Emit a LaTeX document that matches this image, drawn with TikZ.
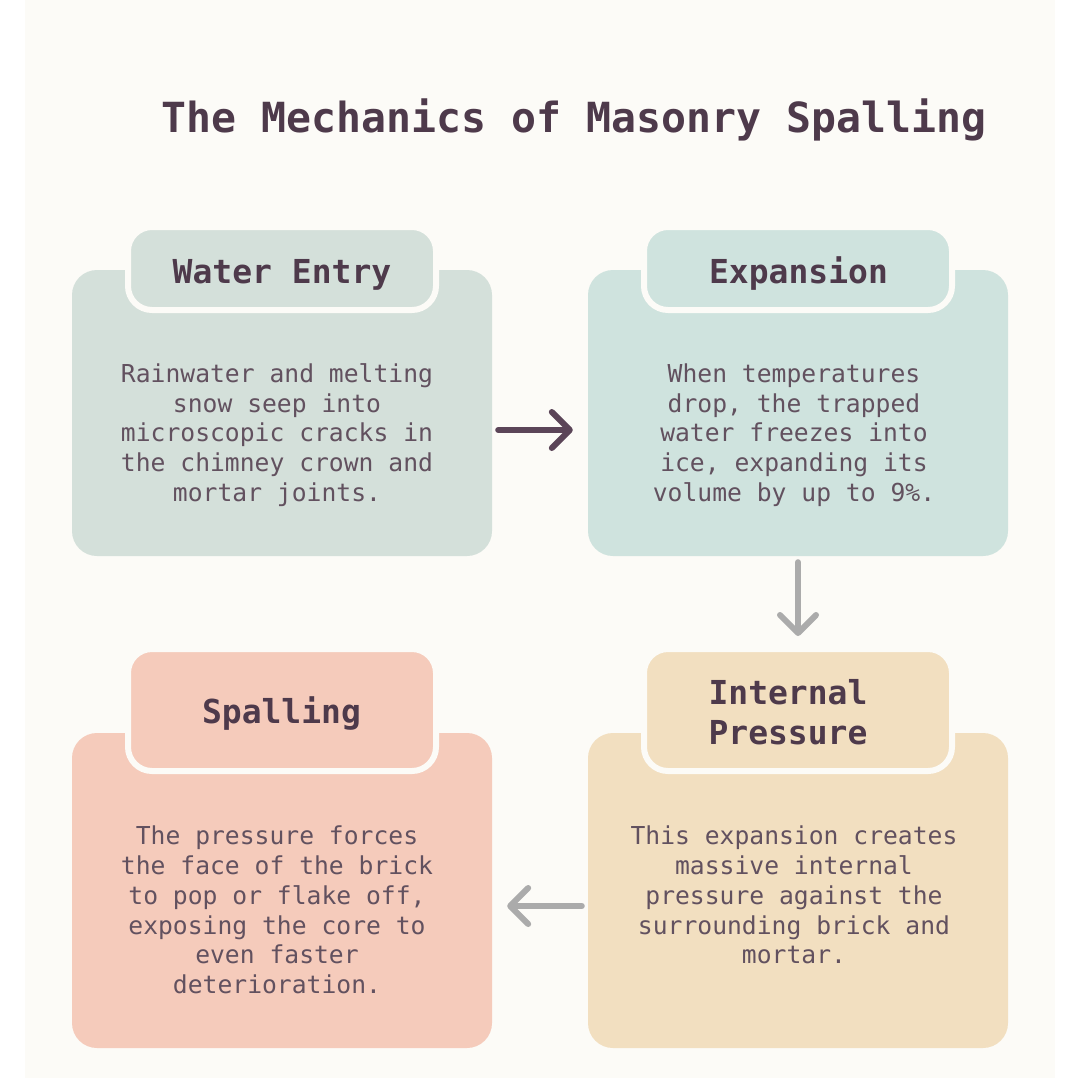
\documentclass[tikz,border=0pt]{standalone}
\usepackage{fontspec}
\setmonofont{DejaVu Sans Mono}
\usetikzlibrary{arrows.meta}
\definecolor{pagebg}{HTML}{FFFFFF}
\definecolor{cardbg}{HTML}{FCFBF7}
\definecolor{boxA}{HTML}{D4E0DA}
\definecolor{boxB}{HTML}{CFE3DE}
\definecolor{boxC}{HTML}{F5CBBB}
\definecolor{boxD}{HTML}{F2DFC0}
\definecolor{headtext}{HTML}{4E3A4B}
\definecolor{bodytext}{HTML}{62515F}
\definecolor{arrowdark}{HTML}{5B4558}
\definecolor{arrowgrey}{HTML}{ABABAB}
\tikzset{
  body/.style={rectangle, rounded corners=25pt, minimum width=420pt, inner sep=0pt, draw=none},
  tabbox/.style={rectangle, rounded corners=24pt, minimum width=308pt, inner sep=0pt, draw=cardbg, line width=6pt},
  headtxt/.style={inner sep=0pt, text=headtext, font=\ttfamily\bfseries\fontsize{33}{40}\selectfont, align=center},
  bodytxt/.style={inner sep=0pt, text=bodytext, font=\ttfamily\fontsize{24.68}{29.8}\selectfont, align=center},
  titletxt/.style={inner sep=0pt, text=headtext, font=\ttfamily\bfseries\fontsize{41.5}{48}\selectfont},
  flowarrow/.style={line width=6pt, line cap=round, -{Straight Barb[length=18pt, width=36pt, round]}},
}
\begin{document}
\begin{tikzpicture}[x=1pt, y=-1pt]
\useasboundingbox (0,0) rectangle (1080,1080);
\fill[pagebg] (0,0) rectangle (1080,1080);
\fill[cardbg] (25,0) rectangle (1055,1078);

\node[titletxt, anchor=base] (title) at (574,132) {The Mechanics of Masonry Spalling};

% bodies
\node[body, fill=boxA, minimum height=286pt] (b1) at (282,413) {};
\node[body, fill=boxB, minimum height=286pt] (b2) at (798,413) {};
\node[body, fill=boxC, minimum height=315pt] (b3) at (282,890.5) {};
\node[body, fill=boxD, minimum height=315pt] (b4) at (798,890.5) {};

% tabs
\node[tabbox, fill=boxA, minimum height=83pt] (t1) at (282,268.5) {};
\node[tabbox, fill=boxB, minimum height=83pt] (t2) at (798,268.5) {};
\node[tabbox, fill=boxC, minimum height=122pt] (t3) at (282,710) {};
\node[tabbox, fill=boxD, minimum height=122pt] (t4) at (798,710) {};

% headings
\node[headtxt, anchor=base] (h1) at (282,283) {Water Entry};
\node[headtxt, anchor=base] (h2) at (798.5,283) {Expansion};
\node[headtxt, anchor=base] (h3) at (281.5,723) {Spalling};
\node[headtxt] (h4) at (788,712) {Internal\\Pressure};

% body texts
\node[bodytxt] (p1) at (277,435) {Rainwater and melting\\snow seep into\\microscopic cracks in\\the chimney crown and\\mortar joints.};
\node[bodytxt] (p2) at (794,435) {When temperatures\\drop, the trapped\\water freezes into\\ice, expanding its\\volume by up to 9\%.};
\node[bodytxt] (p3) at (277,910) {The pressure forces\\the face of the brick\\to pop or flake off,\\exposing the core to\\even faster\\deterioration.};
\node[bodytxt] (p4) at (794,895) {This expansion creates\\massive internal\\pressure against the\\surrounding brick and\\mortar.};

% connectors
\draw[flowarrow, draw=arrowdark, shorten <=6pt, shorten >=15pt] ([yshift=-17pt]b1.east) -- ([yshift=-17pt]b2.west);
\draw[flowarrow, draw=arrowgrey, shorten <=6pt, shorten >=10pt] (b2.south) -- (t4.north);
\draw[flowarrow, draw=arrowgrey, shorten <=6pt, shorten >=15pt] ([yshift=-15.5pt]b4.west) -- ([yshift=-15.5pt]b3.east);
\end{tikzpicture}
\end{document}
